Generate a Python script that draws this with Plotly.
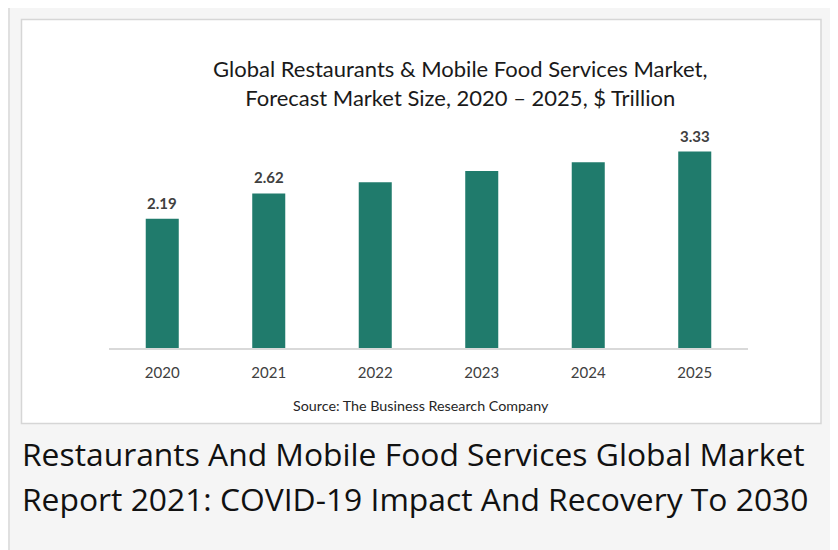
import plotly.graph_objects as go

years = ["2020", "2021", "2022", "2023", "2024", "2025"]
values = [2.19, 2.62, 2.81, 3.00, 3.15, 3.33]
labels = ["2.19", "2.62", "", "", "", "3.33"]

W, H = 838, 550
OFF = 8  # page offset of the figure in the browser
L, R, T, B = 101, 98, 104, 210
PW = W - L - R
PH = H - T - B


def px(x):
    return (x - OFF - L) / PW


def py(y):
    return (H - (y - OFF) - B) / PH


fig = go.Figure()
fig.add_trace(go.Bar(
    x=years, y=values,
    marker=dict(color="#207b6c", line=dict(width=0)),
    hoverinfo="skip",
))

shapes = [
    # outer card
    dict(type="rect", xref="paper", yref="paper", x0=px(8.5), x1=px(834.5), y0=py(600), y1=py(6),
         fillcolor="#f5f5f5", line=dict(color="#e0e0e0", width=3), layer="below"),
    # inner white box
    dict(type="rect", xref="paper", yref="paper", x0=px(21.5), x1=px(821), y0=py(423.5), y1=py(19.5),
         fillcolor="#ffffff", line=dict(color="#d6d6d6", width=1.5), layer="below"),
]

annotations = [
    dict(text="Global Restaurants & Mobile Food Services Market,<br>Forecast Market Size, 2020 – 2025, $ Trillion",
         xref="paper", yref="paper", x=px(460), y=py(83), xanchor="center", yanchor="middle",
         showarrow=False, align="center",
         font=dict(family="Lato", size=22, color="#1a1a1a")),
    dict(text="Source: The Business Research Company",
         xref="paper", yref="paper", x=px(421), y=py(405), xanchor="center", yanchor="middle",
         showarrow=False, font=dict(family="Lato", size=14.3, color="#262626")),
    dict(text="Restaurants And Mobile Food Services Global Market",
         xref="paper", yref="paper", x=px(20), y=py(453), xanchor="left", yanchor="middle",
         showarrow=False, align="left",
         font=dict(family="Open Sans", size=31.8, color="#111111")),
    dict(text="Report 2021: COVID-19 Impact And Recovery To 2030",
         xref="paper", yref="paper", x=px(20), y=py(498), xanchor="left", yanchor="middle",
         showarrow=False, align="left",
         font=dict(family="Open Sans", size=31.8, color="#111111")),
]

for i, (v, lab) in enumerate(zip(values, labels)):
    if lab:
        annotations.append(dict(
            x=i, y=v, xref="x", yref="y", text=lab, showarrow=False,
            xanchor="center", yanchor="bottom", yshift=5,
            font=dict(family="Lato", size=15, color="#404040", weight="bold"),
        ))

fig.update_layout(
    width=W, height=H,
    margin=dict(l=L, r=R, t=T, b=B, pad=0),
    paper_bgcolor="#ffffff", plot_bgcolor="rgba(0,0,0,0)",
    bargap=0.69, showlegend=False,
    shapes=shapes, annotations=annotations,
    xaxis=dict(type="category", range=[-0.5, len(years) - 0.5],
               showgrid=False, showline=True, linecolor="#d9d9d9", linewidth=2,
               ticks="", tickfont=dict(family="Lato", size=15, color="#404040"),
               ticklabelstandoff=10),
    yaxis=dict(range=[0, 4], visible=False, showgrid=False),
)

fig.write_html("out.html")
